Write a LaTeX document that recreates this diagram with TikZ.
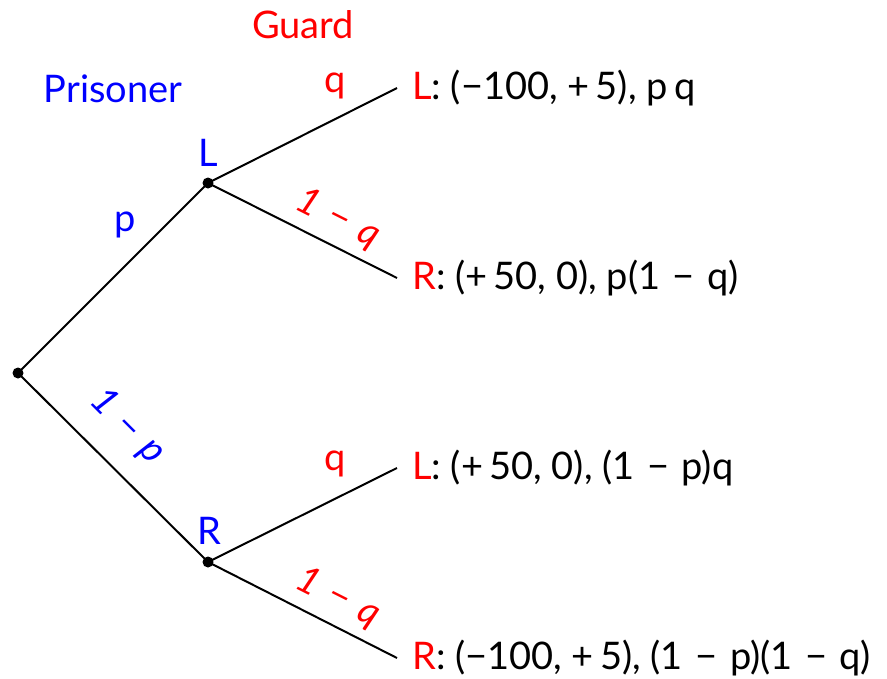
\documentclass[tikz,border=0pt]{standalone}
\usepackage{fontspec}
\setmainfont{Lato}
\newcommand{\mns}{\hspace{0.33em}−\hspace{0.33em}}
\begin{document}
\begin{tikzpicture}[x=1pt,y=-1pt,
  every node/.style={font=\fontsize{38}{44}\selectfont},
  edge/.style={line width=2pt, black},
  dotnode/.style={circle, fill=black, inner sep=0pt, minimum size=11pt},
  leaftext/.style={anchor=west, inner xsep=15pt, inner ysep=0pt},
  problbl/.style={inner sep=1pt}]
\useasboundingbox (0,0) rectangle (887,678);
% nodes
\node[dotnode] (root) at (18,373) {};
\node[dotnode] (nL) at (208,183) {};
\node[dotnode] (nR) at (208,562) {};
\node[leaftext] (LL) at (397,88) {\textcolor{red}{L}: (−100, +\,5), p\,q};
\node[leaftext] (LR) at (397,278) {\textcolor{red}{R}: (+\,50, 0), p(1\mns q)};
\node[leaftext] (RL) at (397,468) {\textcolor{red}{L}: (+\,50, 0), (1\mns p)q};
\node[leaftext] (RR) at (397,658) {\textcolor{red}{R}: (−100, +\,5), (1\mns p)(1\mns q)};
% edges
\draw[edge] (root.center) -- (nL.center);
\draw[edge] (root.center) -- (nR.center);
\draw[edge] (nL.center) -- (LL.west);
\draw[edge] (nL.center) -- (LR.west);
\draw[edge] (nR.center) -- (RL.west);
\draw[edge] (nR.center) -- (RR.west);
% labels
\node[text=red] (guard) at (303,25) {Guard};
\node[text=blue] (prisoner) at (113,89) {Prisoner};
\node[text=blue] (labL) at (208,153) {L};
\node[text=blue] (labR) at (209,531) {R};
\node[text=blue, problbl] (pp) at (125,225) {p};
\node[text=blue, problbl, rotate=-45] (p1) at (127,427) {\itshape 1\mns p};
\node[text=red, problbl] (q1) at (335,86) {q};
\node[text=red, problbl, rotate=-26.7] (q1m) at (338,219) {\itshape 1\mns q};
\node[text=red, problbl] (q2) at (335,464) {q};
\node[text=red, problbl, rotate=-26.7] (q2m) at (338,598) {\itshape 1\mns q};
\end{tikzpicture}
\end{document}
